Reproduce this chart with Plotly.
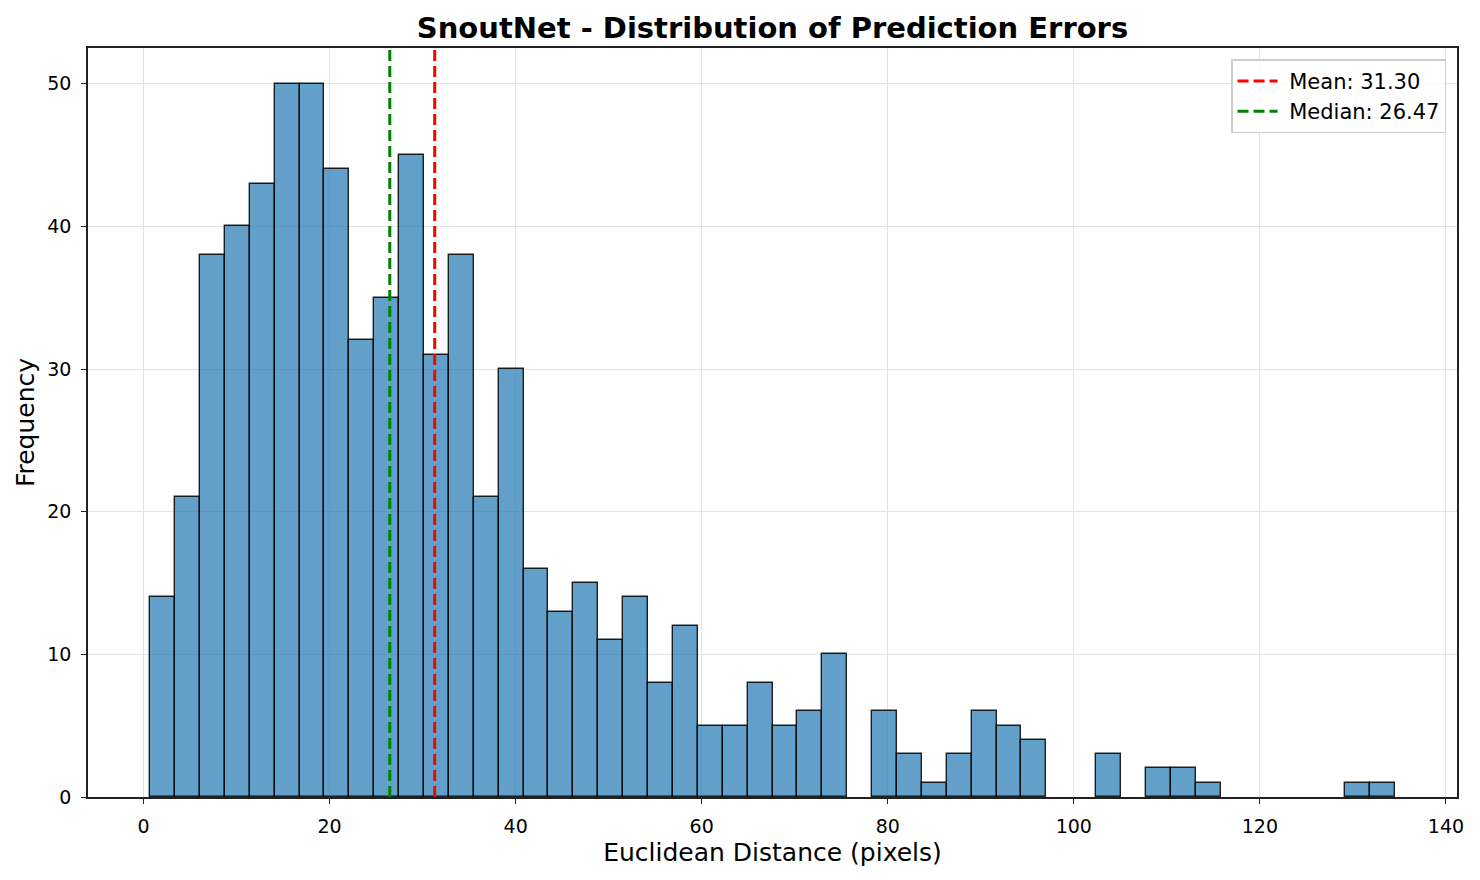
import numpy as np
import plotly.graph_objects as go

# histogram of prediction errors (50 bins)
counts = [14, 21, 38, 40, 43, 50, 50, 44, 32, 35,
          45, 31, 38, 21, 30, 16, 13, 15, 11, 14,
          8, 12, 5, 5, 8, 5, 6, 10, 0, 6,
          3, 1, 3, 6, 5, 4, 0, 0, 3, 0,
          2, 2, 1, 0, 0, 0, 0, 0, 1, 1]
bin_min = 0.72
bin_max = 134.5
mean_err = 31.30
median_err = 26.47

edges = np.linspace(bin_min, bin_max, len(counts) + 1)
centers = (edges[:-1] + edges[1:]) / 2
width = edges[1] - edges[0]

span = bin_max - bin_min
x_range = [bin_min - 0.05 * span, bin_max + 0.05 * span]
y_top = max(counts) * 1.05

FONT = "DejaVu Sans, Liberation Sans, sans-serif"

# page body has an 8px margin, so the figure is drawn 8px smaller
W, H = 1472, 872

fig = go.Figure()
fig.add_trace(go.Bar(
    x=centers, y=[c if c > 0 else None for c in counts], width=width,
    marker=dict(color="rgba(31,119,180,0.7)",
                line=dict(color="rgba(0,0,0,0.85)", width=1.4)),
    showlegend=False,
))
fig.add_trace(go.Scatter(
    x=[mean_err, mean_err], y=[0, y_top], mode="lines",
    line=dict(color="red", width=3, dash="11px,5px"),
    name=f" Mean: {mean_err:.2f}",
))
fig.add_trace(go.Scatter(
    x=[median_err, median_err], y=[0, y_top], mode="lines",
    line=dict(color="green", width=3, dash="11px,5px"),
    name=f" Median: {median_err:.2f}",
))

axis_common = dict(
    showline=True, linecolor="#222222", linewidth=1.6, mirror=True,
    ticks="outside", ticklen=5, tickwidth=1.4, tickcolor="#222222",
    ticklabelstandoff=6,
    showgrid=True, gridcolor="#e3e3e3", gridwidth=1.2,
    zeroline=False,
    tickfont=dict(family=FONT, size=19, color="black"),
)

fig.update_layout(
    width=W, height=H,
    paper_bgcolor="white", plot_bgcolor="white",
    margin=dict(l=80, r=23, t=40, b=83),
    bargap=0,
    title=dict(text="<b>SnoutNet - Distribution of Prediction Errors</b>",
               x=(80 + W - 23) / 2 / W, xanchor="center",
               y=1 - 20 / H, yanchor="middle",
               font=dict(family=FONT, size=29, color="black")),
    xaxis=dict(axis_common, range=x_range, tickvals=list(range(0, 141, 20)),
               title=dict(text="Euclidean Distance (pixels)", standoff=8,
                          font=dict(family=FONT, size=25, color="black"))),
    yaxis=dict(axis_common, range=[0, y_top], tickvals=list(range(0, 51, 10)),
               title=dict(text="Frequency", standoff=5,
                          font=dict(family=FONT, size=25, color="black"))),
    legend=dict(x=0.992, y=0.985, xanchor="right", yanchor="top",
                bgcolor="rgba(255,255,255,0.8)", bordercolor="#cccccc",
                borderwidth=1.5, itemwidth=40,
                font=dict(family=FONT, size=21, color="black")),
)

fig.write_html("out.html")
